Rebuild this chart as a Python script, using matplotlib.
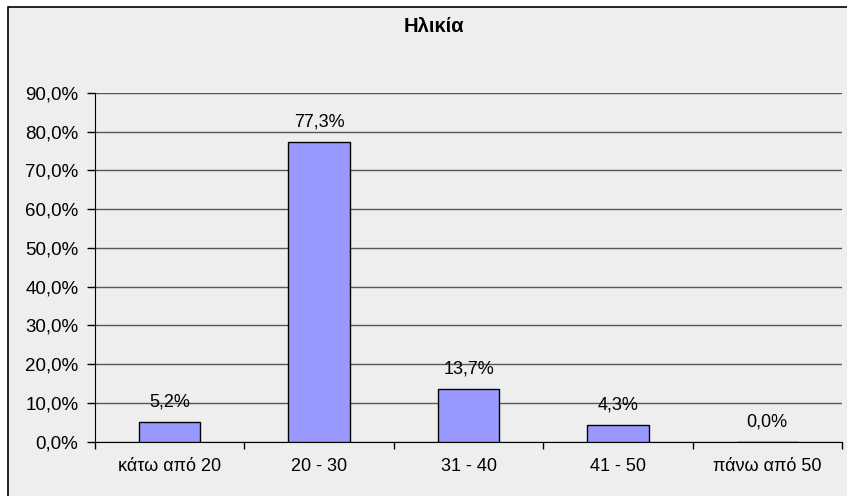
import matplotlib.pyplot as plt
from matplotlib.patches import Rectangle
from matplotlib.ticker import FuncFormatter, FixedLocator

plt.rcParams['font.family'] = ['Liberation Sans', 'DejaVu Sans']

categories = ['κάτω από 20', '20 - 30', '31 - 40', '41 - 50', 'πάνω από 50']
values = [5.2, 77.3, 13.7, 4.3, 0.0]
title = 'Ηλικία'


def pct(v, pos=None):
    return ('%.1f%%' % v).replace('.', ',')


fig = plt.figure(figsize=(8.47, 4.96), dpi=100)
fig.patch.set_facecolor('white')

# chart area frame, cut off at right and bottom
fig.patches.append(Rectangle((8 / 847, -0.5), 1.5, 0.5 + 1 - 7 / 496,
                             transform=fig.transFigure, facecolor='#eeeeee',
                             edgecolor='black', linewidth=1.2, zorder=-1))

ax = fig.add_axes([95 / 847, 54.3 / 496, 747 / 847, 348.7 / 496])
ax.set_zorder(2)
ax.patch.set_alpha(0)

x = list(range(len(categories)))
bars = ax.bar(x, values, width=0.41, color='#9999ff', edgecolor='black',
              linewidth=1, zorder=3)

for xi, v in zip(x, values):
    ax.annotate(pct(v), (xi, v), xytext=(0, 14.4), textcoords='offset points',
                ha='center', va='center', fontsize=13, zorder=4)

ax.set_xlim(-0.5, len(categories) - 0.5)
ax.set_ylim(0, 90)
ax.set_yticks(range(0, 91, 10))
ax.yaxis.set_major_formatter(FuncFormatter(pct))
ax.yaxis.grid(True, color='#555555', linewidth=1, zorder=1)

ax.xaxis.set_major_locator(FixedLocator([i - 0.5 for i in range(len(categories) + 1)]))
ax.set_xticklabels([])
ax.set_xticks(x, minor=True)
ax.set_xticklabels(categories, minor=True)
ax.tick_params(axis='x', which='major', direction='out', length=5, width=1, color='black')
ax.tick_params(axis='x', which='minor', length=0, pad=12, labelsize=13)
ax.tick_params(axis='y', direction='out', length=6, width=1, pad=6, labelsize=13.5)

for s in ['top', 'right']:
    ax.spines[s].set_visible(False)
ax.spines['left'].set_color('black')
ax.spines['bottom'].set_color('black')

fig.text(434 / 847, 1 - 27 / 496, title, ha='center', va='center',
         fontsize=14.5, fontweight='bold')

fig.savefig('out.png', dpi=100)
